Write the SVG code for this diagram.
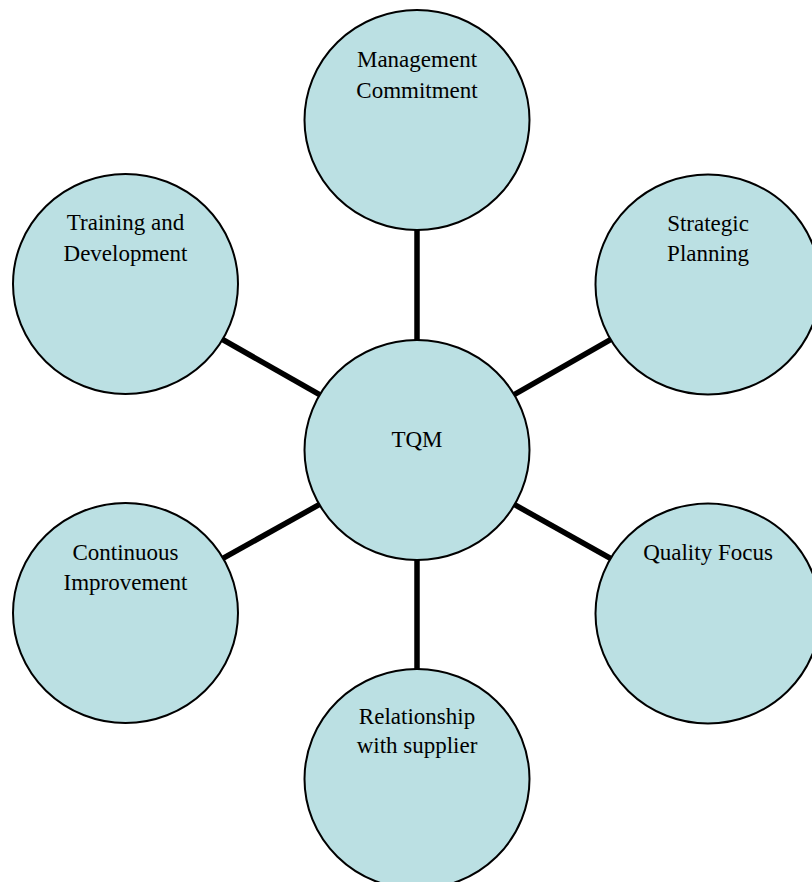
<svg xmlns="http://www.w3.org/2000/svg" width="812" height="882" viewBox="0 0 812 882">
  <style>
    .node ellipse { fill: #bbe0e3; stroke: #000; stroke-width: 2; }
    .node text { font-family: "Liberation Serif", "Times New Roman", serif; font-size: 23px; fill: #000; text-anchor: middle; }
    #connectors line { stroke: #000; stroke-width: 5.5; }
  </style>
  <rect width="812" height="882" fill="#fff"/>

  <!-- spokes from the hub to each satellite -->
  <g id="connectors">
    <line x1="417" y1="450" x2="417" y2="120"/>
    <line x1="417" y1="450" x2="708" y2="284"/>
    <line x1="417" y1="450" x2="708" y2="613"/>
    <line x1="417" y1="450" x2="417" y2="779"/>
    <line x1="417" y1="450" x2="125" y2="613"/>
    <line x1="417" y1="450" x2="125" y2="284"/>
  </g>

  <g id="management-commitment" class="node">
    <ellipse cx="417" cy="120" rx="112.5" ry="110"/>
    <text x="417" y="66.5">Management</text>
    <text x="417" y="97.5">Commitment</text>
  </g>

  <g id="strategic-planning" class="node">
    <ellipse cx="708" cy="284.5" rx="112.5" ry="110"/>
    <text x="708" y="230.5">Strategic</text>
    <text x="708" y="261">Planning</text>
  </g>

  <g id="quality-focus" class="node">
    <ellipse cx="708" cy="613.5" rx="112.5" ry="110"/>
    <text x="708" y="560">Quality Focus</text>
  </g>

  <g id="relationship-with-supplier" class="node">
    <ellipse cx="417" cy="779" rx="112.5" ry="110"/>
    <text x="417" y="723.5">Relationship</text>
    <text x="417" y="752.5">with supplier</text>
  </g>

  <g id="continuous-improvement" class="node">
    <ellipse cx="125.5" cy="613" rx="112.5" ry="110"/>
    <text x="125.5" y="560">Continuous</text>
    <text x="125.5" y="590">Improvement</text>
  </g>

  <g id="training-and-development" class="node">
    <ellipse cx="125.5" cy="284" rx="112.5" ry="110"/>
    <text x="125.5" y="230">Training and</text>
    <text x="125.5" y="261">Development</text>
  </g>

  <g id="tqm" class="node">
    <ellipse cx="417" cy="450" rx="112.5" ry="110"/>
    <text x="417" y="447">TQM</text>
  </g>
</svg>
